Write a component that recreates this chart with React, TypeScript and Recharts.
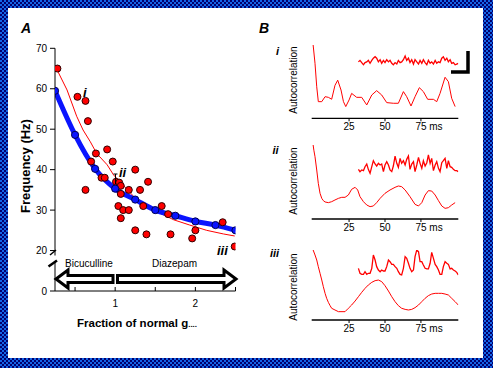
import React from 'react';
import { ComposedChart, LineChart, Line, Scatter, XAxis, YAxis } from 'recharts';

// ---- Panel A: frequency vs fraction of normal gGABA ----
// red dots: measured
const redX = [0.28, 0.53, 0.63, 0.66, 0.76, 0.7, 0.9, 0.97, 0.63, 0.83, 0.87, 1.01, 1.05, 1.07, 1.07, 1.04, 1.1, 1.17, 1.07, 1.17, 1.25, 1.31, 1.41, 1.35, 1.58, 1.25, 1.39, 1.69, 1.66, 1.96, 2.0, 2.34, 2.49];
const redY = [65, 58, 57, 52, 44, 42, 45, 42, 35, 38, 38, 37, 36.8, 36, 34, 31, 30, 30, 28, 35, 40, 35, 37, 31, 31, 25, 24, 24, 29, 23, 25, 27, 21];
// thin red fit
const fitX = [0.28, 0.4, 0.52, 0.6, 0.69, 0.77, 0.9, 0.98, 1.06, 1.31, 1.52, 1.73, 1.93, 2.14, 2.35, 2.49];
const fitY = [64.5, 59.7, 53.2, 49.8, 46.9, 44, 41.2, 38.7, 37, 31.7, 29.6, 27.6, 26.3, 25, 24.1, 23.6];
// thick blue model curve
const modelX = [0.25, 0.5, 0.75, 1.0, 1.25, 1.5, 1.75, 2.0, 2.25, 2.5];
const modelY = [59.5, 48.6, 40.2, 35.3, 32.6, 30.0, 28.6, 27.2, 26.3, 25.0];
// 10 sits below the axis break and is labelled "0"
const freqTicks = [10, 20, 30, 40, 50, 60, 70];
const gTicks = [0.5, 1, 1.5, 2, 2.5];
const gLabels = [1, 2];

// ---- Panel B: autocorrelations (arbitrary units) ----
const msTicks = [25, 50, 75];

const acTimeI = [0, 1.3, 2.5, 3.6, 6.0, 8.3, 10.6, 12.9, 15.2, 17.1, 19.4, 21.1, 22.7, 25, 26.8, 30.3, 33.8, 37.3, 40.8, 44.2, 47.7, 51.2, 55.8, 59.3, 62.8, 65.1, 68.1, 70.9, 73.9, 76.7, 79.7, 83.7, 86, 88.3, 91.8, 94.1, 96.4, 98.8];
const acI = [100, 75, 43, 22.7, 22.7, 29.5, 28.6, 26, 45, 52, 38.6, 22.7, 16, 25, 34, 28.6, 28.6, 18.2, 31.8, 37.7, 31.8, 21.4, 20.5, 20.5, 36.4, 29.5, 16.8, 29.5, 41.8, 36.4, 25.9, 25.9, 22.7, 34, 56, 50, 27.3, 16];

const acTimeII = [0, 0.5, 1.3, 2.5, 3.6, 4.8, 6.0, 7.1, 8.3, 10.6, 12.9, 15.2, 17.6, 19.9, 22.2, 24.5, 26.8, 29.2, 31, 32.6, 35, 37.3, 39.6, 41.9, 44.2, 46.6, 50, 53.5, 57, 59.3, 61.6, 64, 67.4, 70.9, 73.3, 75.6, 77.9, 80.2, 82.5, 84.9, 87.2, 89.5, 91.8, 94.1, 96.4, 98.8];
const acII = [100, 93, 84.2, 66.2, 48.2, 34.7, 27.9, 24.8, 23, 22.1, 23.4, 25.7, 27.9, 29.3, 29.3, 32.4, 40.1, 42.8, 39.2, 30.2, 23.4, 18.9, 16.7, 17.6, 22.1, 27.9, 34.7, 39.2, 42.8, 44.6, 43.7, 39.2, 30.2, 19.8, 17.6, 22.1, 32.4, 38.3, 37.8, 32.4, 24.8, 17.6, 14.4, 15.3, 18.9, 22.1];

const acTimeIII = [0, 1.3, 2.5, 3.6, 4.8, 6, 7.1, 8.3, 9.4, 10.6, 11.8, 12.9, 15.2, 17.6, 22.2, 24.5, 26.8, 29.2, 31.5, 33.8, 36.1, 38.4, 40.8, 43.1, 45.4, 47.7, 50, 52.4, 54.7, 57, 59.3, 61.6, 64, 66.3, 68.6, 70.9, 73.3, 75.6, 77.9, 80.2, 82.5, 84.9, 87.2, 89.5, 91.8, 94.1, 96.4, 98.8, 101];
const acIII = [100, 92.9, 85.7, 76.2, 66.7, 57.1, 47.6, 38.1, 31, 25.2, 20.5, 16.7, 14.3, 11.9, 11.9, 16.7, 21.4, 27.1, 33.3, 39.5, 45.2, 50, 53.8, 56.2, 57.1, 54.8, 49, 41.4, 33.3, 26.2, 20.5, 16.7, 15.2, 14.3, 15.2, 17.6, 21.4, 26.2, 31, 34.8, 37.1, 38.1, 38.1, 38.1, 37.1, 35.7, 31, 26.2, 21.4];

// raw traces shown above each autocorrelation
const traceTime = [31.5, 32.6, 33.8, 35.0, 36.1, 37.3, 38.4, 39.6, 40.8, 41.9, 43.1, 44.2, 45.4, 46.6, 47.7, 48.9, 50.0, 51.2, 52.4, 53.5, 54.7, 55.8, 57.0, 58.2, 59.3, 60.5, 61.6, 62.8, 64.0, 65.1, 66.3, 67.4, 68.6, 69.8, 70.9, 72.1, 73.3, 74.4, 75.6, 76.7, 77.9, 79.1, 80.2, 81.4, 82.5, 83.7, 84.9, 86.0, 87.2, 88.3, 89.5, 90.6, 91.8, 93.0, 94.1, 95.3, 96.4, 97.6, 98.8, 99.9, 101];
const traceI = [77, 79, 76, 73, 76, 77, 79, 75, 79, 82, 84, 82, 77, 80, 75, 79, 76, 80, 77, 79, 75, 73, 76, 74, 79, 76, 77, 80, 85, 79, 82, 76, 80, 74, 80, 77, 74, 79, 75, 80, 76, 73, 79, 75, 77, 74, 79, 75, 77, 76, 82, 84, 79, 82, 77, 80, 75, 76, 73, 74, 75];
const traceII = [67.1, 64, 66.2, 65.3, 70.7, 74.3, 67.1, 61.7, 70.7, 78.8, 74.3, 71.6, 75.2, 73, 74.3, 64, 73, 77.5, 73, 66.2, 64, 71.6, 85.1, 75.2, 69.8, 82, 75.2, 78.8, 73, 80.6, 85.1, 67.1, 74.3, 77.5, 64, 73, 83.3, 75.2, 68.5, 78.8, 71.6, 76.1, 86.5, 75.2, 82, 65.3, 73, 77.5, 68.5, 64, 76.1, 78.8, 82, 68.5, 78.8, 70.7, 69.8, 67.1, 65.3, 65.3, 64];
const traceIII = [73.8, 66.7, 65.2, 65.2, 69, 65.2, 66.7, 66.7, 73.8, 92.9, 85.7, 76.2, 71.4, 69, 71.4, 70, 70, 76.2, 85.7, 83.3, 79.5, 79.5, 76.2, 73.8, 69, 65.2, 64.3, 73.8, 90.5, 88.1, 81, 73.8, 69, 71.4, 90.5, 100, 97.6, 83.3, 83.3, 78.6, 73.8, 72.9, 72.9, 81, 96.7, 88.1, 79.5, 76.2, 71.4, 65.2, 65.2, 76.2, 83.3, 81, 79.5, 72.9, 73.8, 71.4, 70, 68.1, 64.3];

const toPts = (xs: number[], ys: number[]) => xs.map((x, i) => ({ x, y: ys[i] }));

const RED = '#ff0000';
const BLUE = '#0a14ff';

const redDot = (p: any) => (
  <circle cx={p.cx} cy={p.cy} r={3.5} fill={RED} stroke="#300000" strokeWidth={1} />
);

// inward tick marks, labels only at 1 and 2
const gTick = (p: any) => {
  const v = p.payload.value;
  return (
    <g>
      <line x1={p.x} x2={p.x} y1={p.y} y2={p.y - 4} stroke="#000" />
      {gLabels.includes(v) && (
        <text x={p.x} y={p.y + 16} textAnchor="middle" fontSize={10} fill="#000">{v}</text>
      )}
    </g>
  );
};

const msTick = (p: any) => {
  const v = p.payload.value;
  if (v === 75) {
    return <text x={p.x - 5.5} y={p.y} dy="0.71em" fontSize={10} fill="#000">75 ms</text>;
  }
  return <text x={p.x} y={p.y} dy="0.71em" textAnchor="middle" fontSize={10} fill="#000">{v}</text>;
};

const PanelA = () => (
  <div style={{ position: 'absolute', left: 0, top: 0 }}>
    <ComposedChart width={250} height={340} margin={{ top: 48.3, right: 14.5, bottom: 29, left: 5 }}>
      <XAxis
        dataKey="x"
        type="number"
        domain={[0.25, 2.5]}
        ticks={gTicks}
        allowDataOverflow
        height={20}
        tickSize={0}
        tickMargin={0}
        tick={gTick}
        axisLine={{ stroke: '#000' }}
      />
      <YAxis
        dataKey="y"
        type="number"
        domain={[10, 70]}
        ticks={freqTicks}
        allowDataOverflow
        width={50}
        tickSize={5}
        tickMargin={3}
        tickFormatter={(v: number) => (v === 10 ? '0' : String(v))}
        tick={{ fill: '#000', fontSize: 10 }}
        axisLine={{ stroke: '#000' }}
        tickLine={{ stroke: '#000' }}
      />
      <Line data={toPts(fitX, fitY)} dataKey="y" type="linear" stroke={RED} strokeWidth={1} dot={false} isAnimationActive={false} />
      <Scatter data={toPts(redX, redY)} dataKey="y" shape={redDot} isAnimationActive={false} />
      <Line
        data={toPts(modelX, modelY)}
        dataKey="y"
        type="monotone"
        stroke={BLUE}
        strokeWidth={5}
        dot={{ r: 3.6, fill: BLUE, stroke: '#000050', strokeWidth: 1 }}
        isAnimationActive={false}
      />
    </ComposedChart>
  </div>
);

const AutoPanel = ({ top, plotH, acT, ac, trace }: { top: number; plotH: number; acT: number[]; ac: number[]; trace: number[] }) => (
  <div style={{ position: 'absolute', left: 300, top }}>
    <LineChart width={170} height={plotH + 25} margin={{ top: 5, right: 11.7, bottom: 0, left: 11.7 }}>
      <XAxis
        dataKey="x"
        type="number"
        domain={[-1, 101]}
        ticks={msTicks}
        allowDataOverflow
        height={20}
        tickSize={3}
        tickMargin={2}
        tick={msTick}
        axisLine={{ stroke: '#000', strokeWidth: 1.3 }}
        tickLine={{ stroke: '#000' }}
      />
      <YAxis type="number" domain={[0, 100]} allowDataOverflow width={0} tick={false} tickLine={false} axisLine={{ stroke: '#000', strokeWidth: 1.3 }} />
      <Line data={toPts(acT, ac)} dataKey="y" type="linear" stroke={RED} strokeWidth={1} dot={false} isAnimationActive={false} />
      <Line data={toPts(traceTime, trace)} dataKey="y" type="linear" stroke={RED} strokeWidth={1.3} dot={false} isAnimationActive={false} />
    </LineChart>
  </div>
);

const bold = { fontWeight: 'bold' as const };
const boldItalic = { fontWeight: 'bold' as const, fontStyle: 'italic' as const };

export default function App() {
  return (
    <div
      style={{
        position: 'absolute',
        left: 0,
        top: 0,
        width: 493,
        height: 368,
        fontFamily: "'Liberation Sans', Arial, sans-serif",
        background: 'repeating-conic-gradient(#00006e 0% 25%, #1464e6 0% 50%) 0 0 / 4px 4px',
      }}
    >
      <div style={{ position: 'absolute', left: 8, top: 8, width: 475, height: 350, background: '#fff' }} />
      <PanelA />
      <AutoPanel top={40} plotH={73.3} acT={acTimeI} ac={acI} trace={traceI} />
      <AutoPanel top={140} plotH={74} acT={acTimeII} ac={acII} trace={traceII} />
      <AutoPanel top={245} plotH={70} acT={acTimeIII} ac={acIII} trace={traceIII} />
      <svg width={493} height={368} style={{ position: 'absolute', left: 0, top: 0 }}>
        <text x={21} y={33} fontSize={14} style={boldItalic}>A</text>
        <text x={259} y={33} fontSize={14} style={boldItalic}>B</text>
        <text transform="translate(29.5,166) rotate(-90)" textAnchor="middle" fontSize={13} style={bold}>Frequency (Hz)</text>
        <text x={77} y={326.7} fontSize={11.5} style={bold}>
          Fraction of normal g<tspan fontSize={8}>....</tspan>
        </text>

        {/* axis break */}
        <rect x={52} y={255.5} width={6} height={5.5} fill="#fff" />
        <line x1={50} y1={255} x2={56} y2={250} stroke="#000" strokeWidth={1.5} />
        <line x1={48.5} y1={266.5} x2={57} y2={260.5} stroke="#000" strokeWidth={2.5} />

        {/* drug arrows */}
        <polygon points="56,279 68,270 68,275.5 113,275.5 113,282.5 68,282.5 68,288" fill="#fff" stroke="#000" strokeWidth={3} />
        <polygon points="236,279 224,270 224,275.5 117.5,275.5 117.5,282.5 224,282.5 224,288" fill="#fff" stroke="#000" strokeWidth={3} />
        <text x={65} y={267} fontSize={10}>Bicuculline</text>
        <text x={152} y={267} fontSize={10}>Diazepam</text>

        {/* example markers */}
        <text x={83} y={96.7} fontSize={13} style={boldItalic}>i</text>
        <text x={119} y={177} fontSize={13} style={boldItalic}>ii</text>
        <text x={217} y={255} fontSize={13} style={boldItalic}>iii</text>
        <line x1={115.5} x2={115.5} y1={174} y2={184} stroke="#000" />
        <line x1={113.5} x2={117.5} y1={174} y2={174} stroke="#000" />

        {/* panel B labels */}
        <text x={276} y={55} fontSize={11} style={boldItalic}>i</text>
        <text x={272.5} y={154} fontSize={11} style={boldItalic}>ii</text>
        <text x={270} y={257} fontSize={11} style={boldItalic}>iii</text>
        <text transform="translate(297,80) rotate(-90)" textAnchor="middle" fontSize={10}>Autocorrelation</text>
        <text transform="translate(297,181) rotate(-90)" textAnchor="middle" fontSize={10}>Autocorrelation</text>
        <text transform="translate(297,287) rotate(-90)" textAnchor="middle" fontSize={10}>Autocorrelation</text>

        {/* scale bar */}
        <polyline points="468,51 468,72 451,72" fill="none" stroke="#000" strokeWidth={3.5} />
      </svg>
    </div>
  );
}
